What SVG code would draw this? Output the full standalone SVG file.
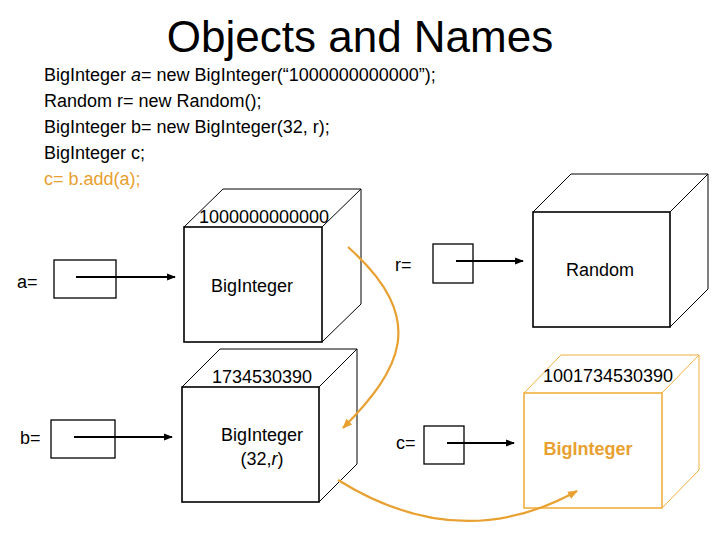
<svg xmlns="http://www.w3.org/2000/svg" width="720" height="540" viewBox="0 0 720 540">
<defs>
<style>
text{font-family:"Liberation Sans",Arial,sans-serif;fill:#000}
.title{font-size:44px}
.code{font-size:18px}
.lbl{font-size:18px}
.or{fill:#E8A030}
.face{fill:none;stroke:#000;stroke-width:1.6}
.edge{fill:none;stroke:#000;stroke-width:1}
.oface{fill:none;stroke:#F0B040;stroke-width:1.6}
.oedge{fill:none;stroke:#F0B040;stroke-width:1}
.ptr{fill:none;stroke:#000;stroke-width:1.3}
.arr{fill:none;stroke:#000;stroke-width:2.2}
.curve{fill:none;stroke:#E8A030;stroke-width:2.2}
</style>
<marker id="ah" viewBox="0 0 10 10" refX="9" refY="5" markerWidth="4" markerHeight="4" orient="auto" markerUnits="strokeWidth">
<path d="M0,1 L10,5 L0,9 z" fill="#000"/>
</marker>
<marker id="oah" viewBox="0 0 10 10" refX="9" refY="5" markerWidth="5" markerHeight="4.5" orient="auto" markerUnits="strokeWidth">
<path d="M0,1 L10,5 L0,9 z" fill="#E8A030"/>
</marker>
</defs>
<rect width="720" height="540" fill="#fff"/>
<g id="title">
<text class="title" x="360" y="52" text-anchor="middle">Objects and Names</text>
</g>
<g id="code">
<text class="code" x="44" y="81">BigInteger <tspan font-style="italic">a</tspan>= new BigInteger(“1000000000000”);</text>
<text class="code" x="44" y="107">Random r= new Random();</text>
<text class="code" x="44" y="133">BigInteger b= new BigInteger(32, r);</text>
<text class="code" x="44" y="159">BigInteger c;</text>
<text class="code or" x="44" y="185">c= b.add(a);</text>
</g>
<g id="cubeA">
<rect class="face" x="184" y="227" width="138" height="115"/>
<path class="edge" d="M184,227 L223,189 L361,189 L361,304 L322,342 M322,227 L361,189"/>
<text class="lbl" x="264" y="223" text-anchor="middle">1000000000000</text>
<text class="lbl" x="252" y="292" text-anchor="middle">BigInteger</text>
</g>
<g id="cubeB">
<rect class="face" x="182" y="387" width="137" height="115"/>
<path class="edge" d="M182,387 L220,349 L357,349 L357,464 L319,502 M319,387 L357,349"/>
<text class="lbl" x="262" y="383" text-anchor="middle">1734530390</text>
<text class="lbl" x="262" y="441" text-anchor="middle">BigInteger</text>
<text class="lbl" x="262" y="465" text-anchor="middle">(32,<tspan font-style="italic">r</tspan>)</text>
</g>
<g id="cubeRandom">
<rect class="face" x="533" y="212" width="137" height="115"/>
<path class="edge" d="M533,212 L571,174 L708,174 L708,289 L670,327 M670,212 L708,174"/>
<text class="lbl" x="600" y="276" text-anchor="middle">Random</text>
</g>
<g id="cubeC">
<rect class="oface" x="524" y="393" width="138" height="115"/>
<path class="oedge" d="M524,393 L561,355 L699,355 L699,470 L662,508 M662,393 L699,355"/>
<text class="lbl" x="608" y="382" text-anchor="middle">1001734530390</text>
<text class="lbl or" x="588" y="455" text-anchor="middle" font-weight="bold">BigInteger</text>
</g>
<g id="varA">
<text class="lbl" x="17" y="288">a=</text>
<rect class="ptr" x="54" y="260" width="62" height="38"/>
</g>
<g id="varB">
<text class="lbl" x="20" y="444">b=</text>
<rect class="ptr" x="51" y="420" width="64" height="38"/>
</g>
<g id="varR">
<text class="lbl" x="395" y="271">r=</text>
<rect class="ptr" x="433" y="244" width="40" height="39"/>
</g>
<g id="varC">
<text class="lbl" x="396" y="449">c=</text>
<rect class="ptr" x="424" y="426" width="40" height="38"/>
</g>
<g id="connectors">
<line class="arr" x1="76" y1="277" x2="175" y2="277" marker-end="url(#ah)"/>
<line class="arr" x1="74" y1="437" x2="172" y2="437" marker-end="url(#ah)"/>
<line class="arr" x1="456" y1="261" x2="523" y2="261" marker-end="url(#ah)"/>
<line class="arr" x1="447" y1="443" x2="514" y2="443" marker-end="url(#ah)"/>
<path class="curve" d="M348,247 C430,320 400,370 343,428" marker-end="url(#oah)"/>
<path class="curve" d="M338,480 Q460,556 577,491" marker-end="url(#oah)"/>
</g>
</svg>
